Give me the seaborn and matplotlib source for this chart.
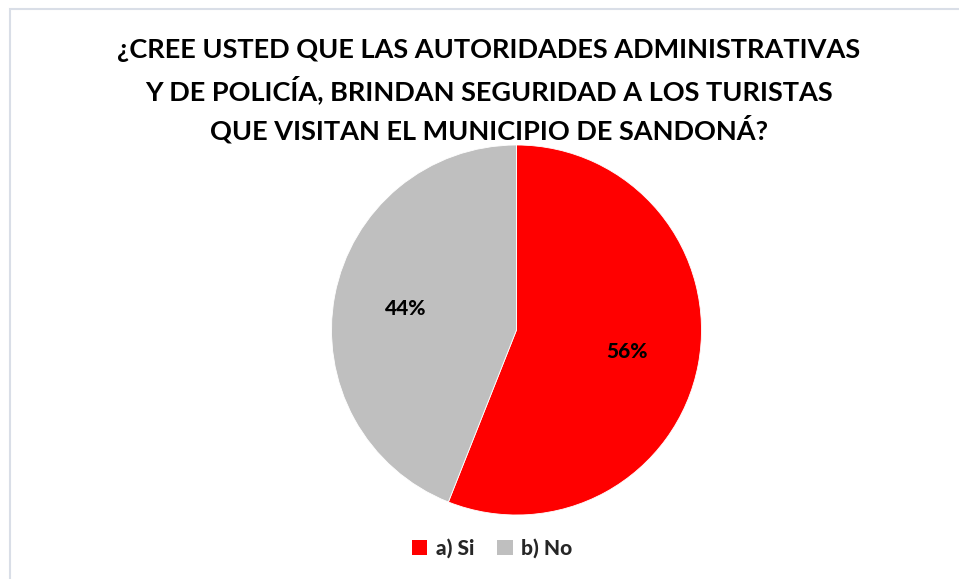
import seaborn as sns
import matplotlib.pyplot as plt
from matplotlib.patches import Patch, Rectangle

categories = ['a) Si', 'b) No']
shares = [56, 44]
title_lines = ['¿CREE USTED QUE LAS AUTORIDADES ADMINISTRATIVAS',
               'Y DE POLICÍA, BRINDAN SEGURIDAD A LOS TURISTAS',
               'QUE VISITAN EL MUNICIPIO DE SANDONÁ?']

sns.set_theme(style="white")
plt.rcParams['font.family'] = ['Lato', 'DejaVu Sans']
colors = ['#FF0000', '#BFBFBF']

W, H = 959, 579
fig = plt.figure(figsize=(W / 100, H / 100), dpi=100)

# light chart border (top/left visible only)
fig.patches.append(Rectangle((9.5 / W, -0.1), 1.2, 1 - 9.5 / H + 0.1, transform=fig.transFigure,
                             fill=False, edgecolor='#D9DEE7', linewidth=1.5))

cx, cy, r = 516.5, 330, 185
ax = fig.add_axes([(cx - r) / W, (H - cy - r) / H, 2 * r / W, 2 * r / H])
ax.pie(shares, colors=colors, startangle=90, counterclock=False,
       autopct='%1.0f%%', pctdistance=0.61,
       wedgeprops=dict(edgecolor='white', linewidth=0.6),
       textprops=dict(fontsize=15, fontweight='black', color='#000000'))
ax.set_xlim(-1, 1)
ax.set_ylim(-1, 1)
ax.set_aspect('equal')

for i, line in enumerate(title_lines):
    fig.text(489 / W, 1 - (50 + i * 39.5) / H, line, ha='center', va='center',
             fontsize=19.5, fontweight='bold', color='#000000')

handles = [Patch(facecolor=c, edgecolor='none') for c in colors]
fig.legend(handles, categories, loc='center', bbox_to_anchor=(492 / W, 1 - 548 / H),
           ncol=2, frameon=False, prop=dict(size=15, weight='black'),
           handlelength=0.75, handleheight=0.75, handletextpad=0.4, columnspacing=1.1)

fig.savefig('out.png', dpi=100)
